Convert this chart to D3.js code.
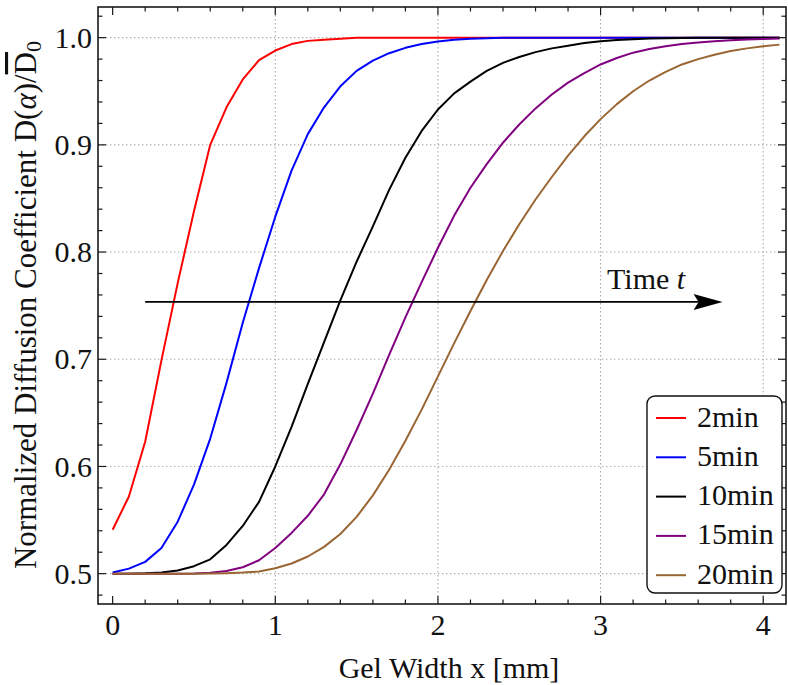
<!DOCTYPE html>
<html>
<head>
<meta charset="utf-8">
<script src="https://cdn.jsdelivr.net/npm/d3@7"></script>
<style>
  html, body { margin: 0; padding: 0; background: #fff; }
  svg { display: block; }
  text { fill: #111; }
</style>
</head>
<body>
<svg id="chart" width="788" height="685"></svg>
<script>
// Gel width sample positions [mm]
const gelWidth = [0.0,0.1,0.2,0.3,0.4,0.5,0.6,0.7,0.8,0.9,1.0,1.1,1.2,1.3,1.4,1.5,1.6,1.7,1.8,1.9,2.0,
                  2.1,2.2,2.3,2.4,2.5,2.6,2.7,2.8,2.9,3.0,3.1,3.2,3.3,3.4,3.5,3.6,3.7,3.8,3.9,4.0,4.1];

// Normalized diffusion coefficient for each diffusion time
const d2min = [0.541,0.572,0.623,0.699,0.771,0.838,0.900,0.935,0.961,0.979,
               0.988,0.994,0.997,0.998,0.999,1.000,1.000,1.000,1.000,1.000,
               1.000,1.000,1.000,1.000,1.000,1.000,1.000,1.000,1.000,1.000,
               1.000,1.000,1.000,1.000,1.000,1.000,1.000,1.000,1.000,1.000,
               1.000,1.000];
const d5min = [0.501,0.5047,0.511,0.524,0.5485,0.583,0.626,0.678,0.734,0.785,
               0.833,0.876,0.910,0.935,0.9546,0.969,0.9786,0.9855,0.9905,0.994,
               0.9965,0.998,0.999,0.9995,1.000,1.000,1.000,1.000,1.000,1.000,
               1.000,1.000,1.000,1.000,1.000,1.000,1.000,1.000,1.000,1.000,
               1.000,1.000];
const d10min = [0.500,0.500,0.5003,0.501,0.503,0.507,0.5134,0.5268,0.5445,0.567,
                0.600,0.637,0.677,0.716,0.755,0.791,0.824,0.858,0.888,0.913,
                0.933,0.948,0.959,0.969,0.9765,0.982,0.9865,0.990,0.9925,0.995,
                0.9966,0.9978,0.9986,0.9991,0.9995,0.9997,0.9998,0.9999,1.000,1.000,
                1.000,1.000];
const d15min = [0.500,0.500,0.500,0.500,0.500,0.5002,0.5008,0.5025,0.506,0.5125,
                0.524,0.538,0.554,0.574,0.602,0.634,0.668,0.704,0.739,0.772,
                0.804,0.834,0.860,0.882,0.902,0.919,0.934,0.947,0.958,0.967,
                0.975,0.981,0.986,0.9895,0.992,0.994,0.9955,0.9967,0.9976,0.9983,
                0.9988,0.9991];
const d20min = [0.500,0.500,0.500,0.500,0.500,0.500,0.5002,0.5005,0.501,0.502,
                0.505,0.5095,0.516,0.525,0.537,0.553,0.573,0.597,0.624,0.653,
                0.684,0.715,0.745,0.774,0.801,0.826,0.849,0.870,0.890,0.908,
                0.924,0.938,0.950,0.960,0.968,0.975,0.980,0.984,0.9875,0.990,
                0.992,0.9935];

const seriesNames  = ["2min", "5min", "10min", "15min", "20min"];
const seriesValues = [d2min, d5min, d10min, d15min, d20min];
const seriesColors = ["#ff0000", "#0000ff", "#000000", "#800080", "#996633"];

const xTickValues = [0, 1, 2, 3, 4];
const yTickValues = [0.5, 0.6, 0.7, 0.8, 0.9, 1.0];
const xGridValues = [1, 2, 3, 4];

const FONT = "'Liberation Serif', 'Times New Roman', Times, Tinos, 'Nimbus Roman', 'Nimbus Roman No9 L', FreeSerif, 'Noto Serif', serif";

// Plot frame
const L = 98, R = 786, T = 7, B = 604;
const svg = d3.select("#chart").attr("font-family", FONT);

const x = d3.scaleLinear().domain([-0.09, 4.14]).range([L, R]);
const y = d3.scaleLinear().domain([0.4717, 1.0286]).range([B, T]);

// Dotted grid
const grid = svg.append("g").attr("stroke", "#ababab").attr("stroke-width", 1.1)
  .attr("stroke-dasharray", "1.4,2.6");
grid.selectAll("line.gx").data(xGridValues).join("line")
  .attr("x1", d => x(d)).attr("x2", d => x(d)).attr("y1", T).attr("y2", B);
grid.selectAll("line.gy").data(yTickValues).join("line")
  .attr("x1", L).attr("x2", R).attr("y1", d => y(d)).attr("y2", d => y(d));

// Curves
const line = d3.line().x((d, i) => x(gelWidth[i])).y(d => y(d));
svg.append("defs").append("clipPath").attr("id", "plotClip")
  .append("rect").attr("x", L).attr("y", T).attr("width", R - L).attr("height", B - T);
const curves = svg.append("g").attr("clip-path", "url(#plotClip)");
seriesValues.forEach((vals, k) => {
  curves.append("path").datum(vals)
    .attr("d", line)
    .attr("fill", "none")
    .attr("stroke", seriesColors[k])
    .attr("stroke-width", 2)
    .attr("stroke-linejoin", "round");
});

// Time arrow
const arrowY = 0.7535, arrowX0 = 0.2, arrowX1 = 3.75;
const ay = y(arrowY), ax0 = x(arrowX0), ax1 = x(arrowX1);
svg.append("line").attr("x1", ax0).attr("x2", ax1 - 24).attr("y1", ay).attr("y2", ay)
  .attr("stroke", "#000").attr("stroke-width", 1.6);
svg.append("path")
  .attr("d", `M${ax1},${ay} L${ax1 - 29},${ay - 8} L${ax1 - 24},${ay} L${ax1 - 29},${ay + 8} Z`)
  .attr("fill", "#000");
const timeLabel = svg.append("text").attr("x", x(3.04)).attr("y", y(0.7656))
  .attr("font-size", 30);
timeLabel.append("tspan").text("Time ");
timeLabel.append("tspan").attr("font-style", "italic").text("t");

// Frame and ticks (inside, all four sides)
svg.append("rect").attr("x", L).attr("y", T).attr("width", R - L).attr("height", B - T)
  .attr("fill", "none").attr("stroke", "#1a1a1a").attr("stroke-width", 1.6);

const xMajor = xTickValues;
const xMinor = d3.range(0, 21).map(i => i * 0.2).filter(v => v <= 4.14 && Math.abs(v - Math.round(v)) > 1e-6);
const yMajor = yTickValues;
const yMinor = d3.range(0, 29).map(i => 0.48 + i * 0.02).filter(v => v <= 1.0286 && Math.abs(v * 10 - Math.round(v * 10)) > 1e-6);
const ticks = svg.append("g").attr("stroke", "#1a1a1a").attr("stroke-width", 1.2);
const majLen = 8, minLen = 4.5;
function xTicks(vals, len) {
  vals.forEach(v => {
    ticks.append("line").attr("x1", x(v)).attr("x2", x(v)).attr("y1", B).attr("y2", B - len);
    ticks.append("line").attr("x1", x(v)).attr("x2", x(v)).attr("y1", T).attr("y2", T + len);
  });
}
function yTicks(vals, len) {
  vals.forEach(v => {
    ticks.append("line").attr("y1", y(v)).attr("y2", y(v)).attr("x1", L).attr("x2", L + len);
    ticks.append("line").attr("y1", y(v)).attr("y2", y(v)).attr("x1", R).attr("x2", R - len);
  });
}
xTicks(xMajor, majLen); xTicks(xMinor, minLen);
yTicks(yMajor, majLen); yTicks(yMinor, minLen);

// Tick labels
svg.append("g").selectAll("text").data(xTickValues).join("text")
  .attr("x", d => x(d)).attr("y", 635).attr("text-anchor", "middle")
  .attr("font-size", 30).text(d => d3.format("d")(d));
svg.append("g").selectAll("text").data(yTickValues).join("text")
  .attr("x", 92).attr("y", d => y(d)).attr("dy", "0.34em").attr("text-anchor", "end")
  .attr("font-size", 30).text(d => d3.format(".1f")(d));

// Axis titles
svg.append("text").attr("x", 449).attr("y", 678).attr("text-anchor", "middle")
  .attr("font-size", 30).text("Gel Width x [mm]");

const yTitle = svg.append("text")
  .attr("transform", "translate(36,305) rotate(-90)")
  .attr("text-anchor", "middle").attr("font-size", 31);
yTitle.append("tspan").text("Normalized Diffusion Coefficient D(");
yTitle.append("tspan").attr("font-style", "italic").text("α");
yTitle.append("tspan").text(")/");
yTitle.append("tspan").attr("text-decoration", "overline").text("D");
yTitle.append("tspan").attr("font-size", 22).attr("dy", 5).text("0");

// Legend
const lg = svg.append("g");
lg.append("rect").attr("x", 647).attr("y", 396).attr("width", 135).attr("height", 197)
  .attr("rx", 8).attr("ry", 8).attr("fill", "#fff").attr("stroke", "#111").attr("stroke-width", 1.4);
seriesNames.forEach((name, k) => {
  const cy = 418 + k * 39.3;
  lg.append("line").attr("x1", 656).attr("x2", 686).attr("y1", cy).attr("y2", cy)
    .attr("stroke", seriesColors[k]).attr("stroke-width", 2);
  lg.append("text").attr("x", 697).attr("y", cy + 8.5).attr("font-size", 30).text(name);
});
</script>
</body>
</html>
